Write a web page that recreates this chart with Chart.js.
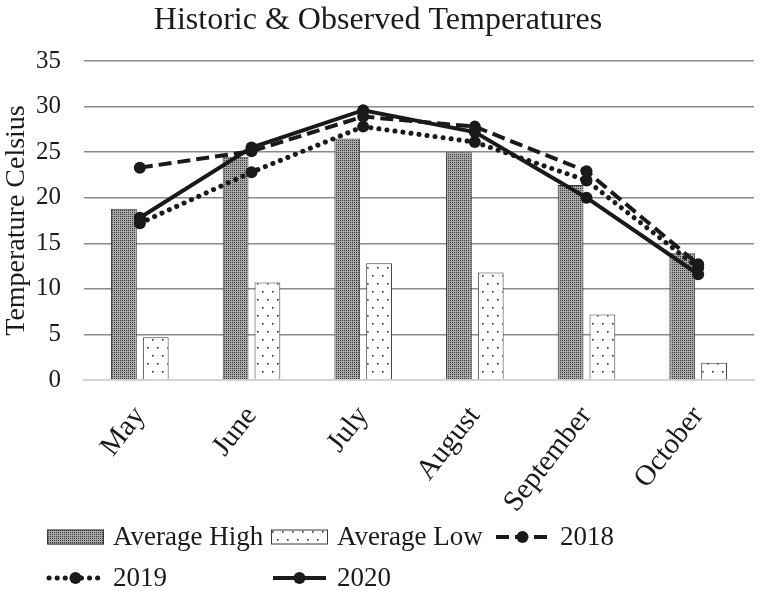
<!DOCTYPE html>
<html>
<head>
<meta charset="utf-8">
<script src="https://cdn.jsdelivr.net/npm/chart.js@4.4.1/dist/chart.umd.min.js"></script>
<style>
  html, body { margin: 0; padding: 0; background: #fff; }
  #wrap { width: 760px; height: 591px; position: relative; }
</style>
</head>
<body>
<div id="wrap"><canvas id="c"></canvas></div>
<script>
// ---- data ----
const months = ["May", "June", "July", "August", "September", "October"];
const averageHigh = [18.8, 24.5, 26.5, 25.0, 21.4, 13.9];
const averageLow = [4.7, 10.7, 12.8, 11.8, 7.2, 1.9];
const obs2018 = [23.3, 25.1, 28.9, 27.8, 22.9, 12.7];
const obs2019 = [17.2, 22.8, 27.8, 26.1, 21.9, 12.3];
const obs2020 = [17.8, 25.5, 29.6, 27.2, 20.0, 11.6];
const seriesNames = ["Average High", "Average Low", "2018", "2019", "2020"];
const yTicks = [0, 5, 10, 15, 20, 25, 30, 35];
const chartTitle = "Historic & Observed Temperatures";
const yTitle = "Temperature Celsius";

const SERIF = "'Liberation Serif', 'Times New Roman', serif";
const INK = "#1a1a1a";

// ---- patterns ----
function makeHighPattern() {
  const c = document.createElement("canvas");
  c.width = 2; c.height = 2;
  const x = c.getContext("2d");
  x.fillStyle = "#ababab"; x.fillRect(0, 0, 2, 2);
  x.fillStyle = "#333333"; x.fillRect(0, 0, 1, 1);
  return x.createPattern(c, "repeat");
}
function makeLowPattern() {
  const c = document.createElement("canvas");
  c.width = 10; c.height = 16;
  const x = c.getContext("2d");
  x.fillStyle = "#ffffff"; x.fillRect(0, 0, 10, 16);
  x.fillStyle = "#333333";
  x.fillRect(2, 3, 1.6, 1.6);
  x.fillRect(7, 11, 1.6, 1.6);
  return x.createPattern(c, "repeat");
}
const highPat = makeHighPattern();
const lowPat = makeLowPattern();

const lineStyles = {
  "2018": { dash: [13, 6], width: 4, cap: "butt" },
  "2019": { dash: [0.1, 8], width: 5, cap: "round" },
  "2020": { dash: [], width: 4, cap: "butt" }
};

function lineDataset(label, data) {
  const s = lineStyles[label];
  return {
    type: "line", label, data, order: 1,
    borderColor: INK, backgroundColor: INK,
    borderWidth: s.width, borderDash: s.dash, borderCapStyle: s.cap,
    pointRadius: 6, pointHoverRadius: 6, pointBackgroundColor: INK,
    pointBorderColor: INK, pointBorderWidth: 0, tension: 0, fill: false
  };
}

// ---- custom legend (grid layout) ----
const gridLegend = {
  id: "gridLegend",
  afterDraw(chart) {
    const ctx = chart.ctx;
    const cols = [47, 271, 494];
    const rows = [537, 578];
    const symW = 57, gap = 9;
    chart.data.datasets.forEach((ds, i) => {
      const cx = cols[i % 3];
      const cy = rows[Math.floor(i / 3)];
      ctx.save();
      if (ds.type === "bar" || !ds.type) {
        ctx.fillStyle = ds.backgroundColor;
        ctx.fillRect(cx, cy - 7.5, symW, 15);
        ctx.strokeStyle = ds.borderColor;
        ctx.lineWidth = 1;
        ctx.strokeRect(cx + 0.5, cy - 7, symW - 1, 14);
      } else {
        ctx.strokeStyle = ds.borderColor;
        ctx.lineWidth = ds.borderWidth;
        ctx.lineCap = ds.borderCapStyle;
        ctx.setLineDash(ds.borderDash);
        ctx.beginPath();
        ctx.moveTo(cx + 2, cy);
        ctx.lineTo(cx + symW - 2, cy);
        ctx.stroke();
        ctx.setLineDash([]);
        ctx.fillStyle = ds.pointBackgroundColor;
        ctx.beginPath();
        ctx.arc(cx + symW / 2, cy, 6, 0, Math.PI * 2);
        ctx.fill();
      }
      ctx.fillStyle = INK;
      ctx.font = "27px " + SERIF;
      ctx.textBaseline = "middle";
      ctx.textAlign = "left";
      ctx.fillText(ds.label, cx + symW + gap, cy + 1);
      ctx.restore();
    });
  }
};

const ctx = document.getElementById("c").getContext("2d");
new Chart(ctx, {
  data: {
    labels: months,
    datasets: [
      { type: "bar", label: seriesNames[0], data: averageHigh, order: 2,
        backgroundColor: highPat, borderColor: "#3a3a3a", borderWidth: 1,
        categoryPercentage: 0.57, barPercentage: 0.81 },
      { type: "bar", label: seriesNames[1], data: averageLow, order: 2,
        backgroundColor: lowPat, borderColor: "#3a3a3a", borderWidth: 1,
        categoryPercentage: 0.57, barPercentage: 0.81 },
      lineDataset(seriesNames[2], obs2018),
      lineDataset(seriesNames[3], obs2019),
      lineDataset(seriesNames[4], obs2020)
    ]
  },
  options: {
    responsive: true,
    maintainAspectRatio: false,
    animation: false,
    layout: { padding: { left: 0, right: 4, top: 0, bottom: 0 } },
    plugins: {
      legend: { display: false },
      tooltip: { enabled: false },
      title: {
        display: true, text: chartTitle, color: INK,
        font: { family: SERIF, size: 32, weight: "normal" },
        padding: { top: 1, bottom: 21.6 }
      }
    },
    scales: {
      x: {
        grid: { display: false, drawTicks: false },
        border: { display: true, color: "#d4d4d4", width: 2 },
        ticks: {
          color: INK, font: { family: SERIF, size: 29 },
          maxRotation: 52, minRotation: 52, padding: 20, autoSkip: false
        },
        afterFit(scale) { scale.height = 211; }
      },
      y: {
        min: 0, max: 35,
        afterBuildTicks(scale) { scale.ticks = yTicks.map(v => ({ value: v })); },
        grid: {
          drawTicks: false,
          color: (c) => (c.tick && c.tick.value === 0 ? "#d4d4d4" : "#8a8a8a"),
          lineWidth: 1.5
        },
        border: { display: false },
        ticks: { color: INK, font: { family: SERIF, size: 25 }, padding: 23 },
        title: {
          display: true, text: yTitle, color: INK,
          font: { family: SERIF, size: 28 }, padding: { top: 0, bottom: 0 }
        },
        afterFit(scale) { scale.width = 84; }
      }
    }
  },
  plugins: [gridLegend]
});
</script>
</body>
</html>
